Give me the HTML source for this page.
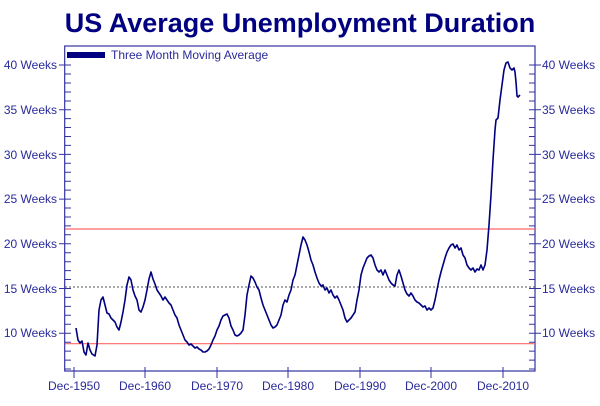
<!DOCTYPE html>
<html><head><style>
body{margin:0;background:#fff;}
svg text{font-family:"Liberation Sans",Arial,sans-serif;}
</style></head><body>
<svg width="600" height="401" viewBox="0 0 600 401" xmlns="http://www.w3.org/2000/svg">
<text x="300" y="32" text-anchor="middle" font-size="27" font-weight="bold" fill="#000080">US Average Unemployment Duration</text>
<g stroke="#3333a0" stroke-width="1.2" fill="none">
<rect x="64.7" y="46" width="470.3" height="325"/>
</g>
<g id="yt" stroke="#3333a0" stroke-width="1"></g>
<line x1="65" y1="229" x2="535" y2="229" stroke="#ff6666" stroke-width="1.2"/>
<line x1="65" y1="343.7" x2="535" y2="343.7" stroke="#ff6666" stroke-width="1.2"/>
<line x1="65" y1="287" x2="535" y2="287" stroke="#555" stroke-width="1" stroke-dasharray="2,2"/>
<g font-size="12" fill="#2a2a9a">
<text x="57" y="69" text-anchor="end">40 Weeks</text>
<text x="57" y="114" text-anchor="end">35 Weeks</text>
<text x="57" y="159" text-anchor="end">30 Weeks</text>
<text x="57" y="203" text-anchor="end">25 Weeks</text>
<text x="57" y="248" text-anchor="end">20 Weeks</text>
<text x="57" y="293" text-anchor="end">15 Weeks</text>
<text x="57" y="337" text-anchor="end">10 Weeks</text>
<text x="542" y="69">40 Weeks</text>
<text x="542" y="114">35 Weeks</text>
<text x="542" y="159">30 Weeks</text>
<text x="542" y="203">25 Weeks</text>
<text x="542" y="248">20 Weeks</text>
<text x="542" y="293">15 Weeks</text>
<text x="542" y="337">10 Weeks</text>
<text x="74" y="390" text-anchor="middle">Dec-1950</text>
<text x="145" y="390" text-anchor="middle">Dec-1960</text>
<text x="217" y="390" text-anchor="middle">Dec-1970</text>
<text x="288" y="390" text-anchor="middle">Dec-1980</text>
<text x="360" y="390" text-anchor="middle">Dec-1990</text>
<text x="431" y="390" text-anchor="middle">Dec-2000</text>
<text x="503" y="390" text-anchor="middle">Dec-2010</text>
</g>
<g stroke="#3333a0" stroke-width="1">
<line x1="74" y1="367" x2="74" y2="378"/><line x1="145" y1="367" x2="145" y2="378"/>
<line x1="217" y1="367" x2="217" y2="378"/><line x1="288" y1="367" x2="288" y2="378"/>
<line x1="360" y1="367" x2="360" y2="378"/><line x1="431" y1="367" x2="431" y2="378"/>
<line x1="503" y1="367" x2="503" y2="378"/>
</g>
<rect x="67" y="52" width="38" height="6" fill="#000080"/>
<text x="111" y="59" font-size="12" fill="#2a2a9a">Three Month Moving Average</text>
<polyline fill="none" stroke="#000080" stroke-width="1.6" stroke-linejoin="round" points="76,328 78,340 80,343 82,341 84,352 86,355 88,343 90,350 92,354 95,356 97,345 99,310 101,300 103,297 105,305 107,313 109,314 111,318 113,320 115,322 117,327 119,330 121,322 123,312 125,300 127,285 129,277 131,280 133,290 135,296 137,300 139,310 141,312 143,307 145,300 147,290 149,279 151,272 153,279 155,284 157,290 159,293 161,296 163,300 165,297 167,300 169,303 171,305 173,310 175,315 177,318 179,325 181,330 183,335 185,340 187,342 189,345 191,344 193,346 195,348 197,347 199,349 201,350 203,352 205,352 207,351 209,349 211,345 213,340 215,336 217,330 219,326 221,320 223,316 225,315 227,314 229,318 231,326 233,330 235,335 237,336 239,335 241,333 243,330 245,315 247,295 249,285 251,276 253,278 255,282 257,287 259,290 261,298 263,305 265,310 267,315 269,320 271,325 273,328 275,327 277,325 279,320 281,315 283,305 285,300 287,302 289,295 291,290 293,280 295,275 297,265 299,255 301,245 303,237 305,240 307,245 309,252 311,260 313,265 315,272 317,278 319,283 321,286 323,285 325,290 327,288 329,293 331,290 333,295 335,298 337,296 339,300 341,305 343,310 345,318 347,322 349,320 351,318 353,315 355,312 357,300 359,290 361,275 363,268 365,263 367,258 369,256 371,255 373,258 375,265 377,270 379,272 381,270 383,275 385,270 387,275 389,280 391,283 393,285 395,286 397,275 399,270 401,276 403,283 405,290 407,294 409,296 411,293 413,296 415,300 417,302 419,303 421,305 423,307 425,306 427,310 429,308 431,310 433,308 435,300 437,290 439,280 441,272 443,265 445,258 447,252 449,248 451,245 453,244 455,248 457,245 459,250 461,248 463,255 465,258 467,265 469,268 471,270 473,268 475,272 477,269 479,270 481,265 483,270 485,265 487,250 489,225 491,195 493,160 495,130 496,120 498,118 500,100 502,85 504,70 506,63 508,62 510,68 512,70 514,68 515,72 516,82 517,96 518,97 520,95"/>
<g stroke="#3333a0" stroke-width="1">
<path d="M59 65H71M59 109.7H71M59 154.4H71M59 199.1H71M59 243.8H71M59 288.5H71M59 333.3H71
M529 65H541M529 109.7H541M529 154.4H541M529 199.1H541M529 243.8H541M529 288.5H541M529 333.3H541
M65 74H71M65 83H71M65 92H71M65 101H71M65 118.6H71M65 127.5H71M65 136.5H71M65 145.4H71M65 163.3H71M65 172.3H71M65 181.2H71M65 190.1H71M65 208H71M65 217H71M65 225.9H71M65 234.8H71M65 252.7H71M65 261.7H71M65 270.6H71M65 279.5H71M65 297.4H71M65 306.4H71M65 315.3H71M65 324.3H71M65 342.2H71M65 351.1H71M65 360.1H71M65 369H71
M529 74H535M529 83H535M529 92H535M529 101H535M529 118.6H535M529 127.5H535M529 136.5H535M529 145.4H535M529 163.3H535M529 172.3H535M529 181.2H535M529 190.1H535M529 208H535M529 217H535M529 225.9H535M529 234.8H535M529 252.7H535M529 261.7H535M529 270.6H535M529 279.5H535M529 297.4H535M529 306.4H535M529 315.3H535M529 324.3H535M529 342.2H535M529 351.1H535M529 360.1H535M529 369H535"/>
</g>
</svg>
</body></html>
